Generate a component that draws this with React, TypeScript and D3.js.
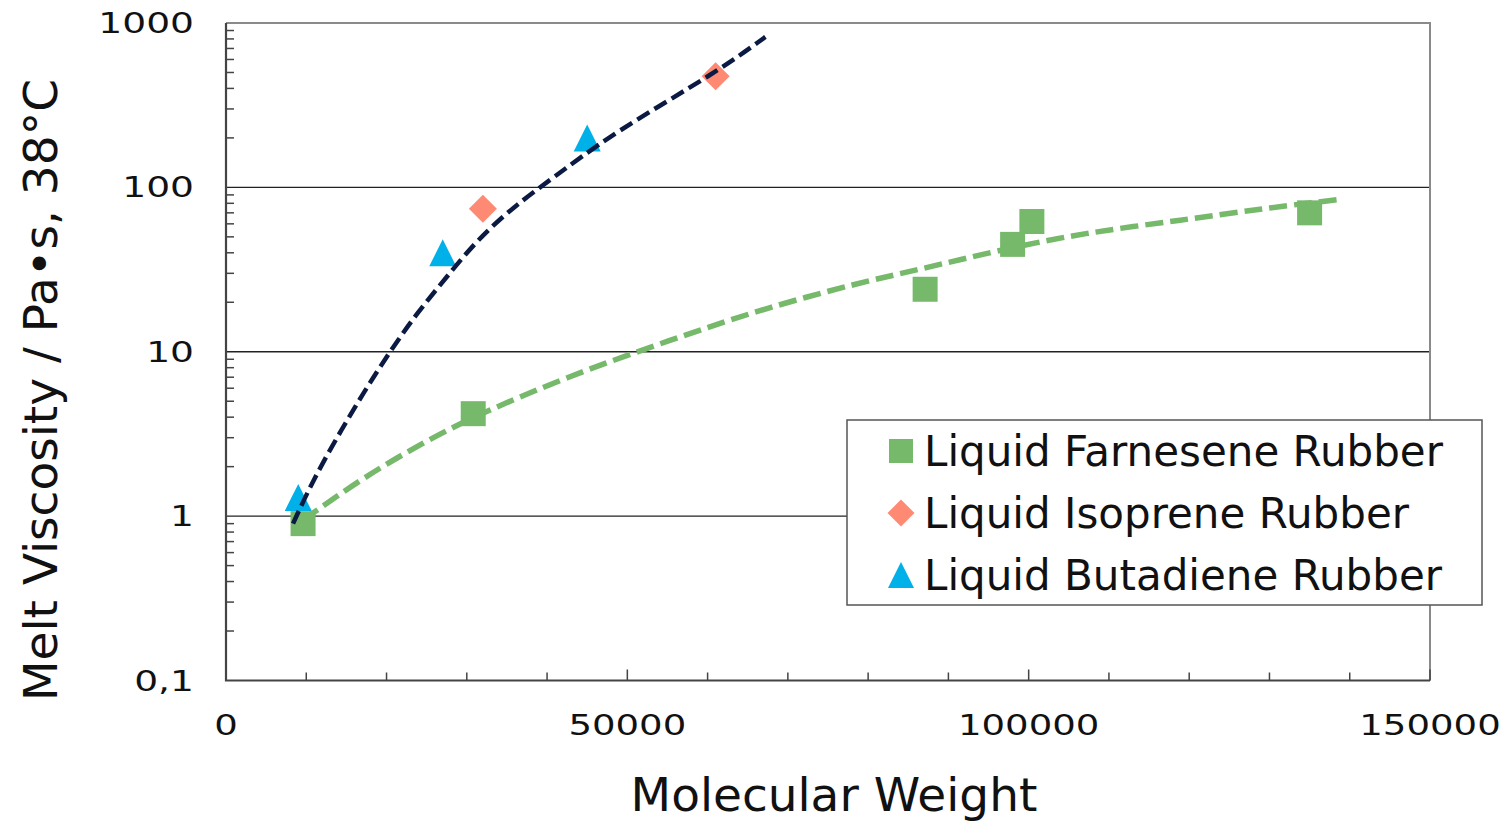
import { useRef, useEffect } from "react";
import * as d3 from "d3";

// Data
const farneseneMw = [9600, 30800, 87100, 98000, 100400, 135000];
const farneseneVisc = [0.9, 4.2, 24, 45, 62, 70];

const isopreneMw = [32000, 61000];
const isopreneVisc = [74, 475];

const butadieneMw = [9000, 27000, 45000];
const butadieneVisc = [1.3, 40, 200];

// Trend lines (dashed)
const darkTrendMw = [8350, 10700, 13800, 17100, 20400, 23800, 27500, 31300, 35800, 40400, 48200, 61200, 67200];
const darkTrendVisc = [0.9, 1.6, 3.0, 5.6, 10, 17.2, 28.5, 48, 76, 111, 214, 504, 823];

const greenTrendMw = [9600, 10800, 16700, 22900, 29200, 34500, 42500, 50700, 59100, 67400, 78700, 86100, 96400, 106800, 119200, 129700, 139200];
const greenTrendVisc = [0.95, 1.04, 1.66, 2.52, 3.68, 4.8, 7.0, 9.8, 13.6, 18.5, 26.2, 31.4, 41.6, 52.8, 63.3, 74.9, 85];

const xTickValues = [0, 50000, 100000, 150000];
const xTickLabels = ["0", "50000", "100000", "150000"];
const yTickValues = [0.1, 1, 10, 100, 1000];
const yTickLabels = ["0,1", "1", "10", "100", "1000"];

const legendLabels = [
  "Liquid Farnesene Rubber",
  "Liquid Isoprene Rubber",
  "Liquid Butadiene Rubber",
];

const GREEN = "#76b96b";
const SALMON = "#ff8a73";
const BLUE = "#00b0e8";
const NAVY = "#0b1a42";
const FONT = "'DejaVu Sans', sans-serif";

const W = 1511;
const H = 821;

function markerPath(kind, size) {
  const h = size / 2;
  if (kind === "square") return `M${-h},${-h}H${h}V${h}H${-h}Z`;
  if (kind === "diamond") {
    const r = h + 1.5;
    return `M0,${-r}L${r},0L0,${r}L${-r},0Z`;
  }
  const t = h + 1;
  return `M0,${-t}L${t},${t}L${-t},${t}Z`;
}

export default function App() {
  const svgRef = useRef(null);

  useEffect(() => {
    if (!svgRef.current) return;
    const svg = d3.select(svgRef.current);
    svg.selectAll("*").remove();

    const x = d3.scaleLinear().domain([0, 150000]).range([226, 1430]);
    const y = d3.scaleLog().domain([0.1, 1000]).range([680.5, 23]);

    const [x0, x1] = x.range();
    const [yb, yt] = y.range();

    // gridlines at decades (except top/bottom)
    svg
      .append("g")
      .selectAll("line")
      .data([1, 10, 100])
      .join("line")
      .attr("x1", x0)
      .attr("x2", x1)
      .attr("y1", (d) => y(d))
      .attr("y2", (d) => y(d))
      .attr("stroke", "#222")
      .attr("stroke-width", 1.3);

    // frame: top and right gray
    svg
      .append("path")
      .attr("d", `M${x0},${yt}H${x1}V${yb}`)
      .attr("fill", "none")
      .attr("stroke", "#8a8a8a")
      .attr("stroke-width", 2);

    // y minor ticks (inside)
    const minor = y.ticks().filter((v) => Math.abs(Math.log10(v) - Math.round(Math.log10(v))) > 1e-6);
    svg
      .append("g")
      .selectAll("line")
      .data(minor)
      .join("line")
      .attr("x1", x0)
      .attr("x2", x0 + 8)
      .attr("y1", (d) => y(d))
      .attr("y2", (d) => y(d))
      .attr("stroke", "#444")
      .attr("stroke-width", 1.5);

    // x ticks (inside)
    svg
      .append("g")
      .selectAll("line")
      .data(x.ticks(15))
      .join("line")
      .attr("x1", (d) => x(d))
      .attr("x2", (d) => x(d))
      .attr("y1", yb)
      .attr("y2", (d) => (d % 50000 === 0 ? yb - 11 : yb - 8))
      .attr("stroke", "#444")
      .attr("stroke-width", 1.5);

    // left and bottom axis lines
    svg
      .append("path")
      .attr("d", `M${x0},${yt}V${yb}H${x1}`)
      .attr("fill", "none")
      .attr("stroke", "#444")
      .attr("stroke-width", 2.2);

    // tick labels, widened glyphs
    svg
      .append("g")
      .selectAll("g")
      .data(yTickValues)
      .join("g")
      .attr("transform", (d) => `translate(194,${y(d) + 10}) scale(1.32,1)`)
      .append("text")
      .attr("text-anchor", "end")
      .attr("font-family", FONT)
      .attr("font-size", 28.5)
      .attr("fill", "#111")
      .text((d, i) => yTickLabels[i]);

    svg
      .append("g")
      .selectAll("g")
      .data(xTickValues)
      .join("g")
      .attr("transform", (d) => `translate(${x(d)},735) scale(1.3,1)`)
      .append("text")
      .attr("text-anchor", "middle")
      .attr("font-family", FONT)
      .attr("font-size", 28.5)
      .attr("fill", "#111")
      .text((d, i) => xTickLabels[i]);

    // axis titles
    svg
      .append("text")
      .attr("x", 834)
      .attr("y", 811)
      .attr("text-anchor", "middle")
      .attr("font-family", FONT)
      .attr("font-size", 47)
      .attr("fill", "#111")
      .text("Molecular Weight");

    svg
      .append("text")
      .attr("transform", "translate(57,390) rotate(-90)")
      .attr("text-anchor", "middle")
      .attr("font-family", FONT)
      .attr("font-size", 47)
      .attr("fill", "#111")
      .text("Melt Viscosity / Pa•s, 38°C");

    // markers
    const series = [
      { kind: "square", color: GREEN, mw: farneseneMw, v: farneseneVisc },
      { kind: "diamond", color: SALMON, mw: isopreneMw, v: isopreneVisc },
      { kind: "triangle", color: BLUE, mw: butadieneMw, v: butadieneVisc },
    ];
    series.forEach((s) => {
      svg
        .append("g")
        .selectAll("path")
        .data(s.mw.map((m, i) => [m, s.v[i]]))
        .join("path")
        .attr("transform", (d) => `translate(${x(d[0])},${y(d[1])})`)
        .attr("d", markerPath(s.kind, 25))
        .attr("fill", s.color);
    });

    // trend lines on top
    const line = d3
      .line()
      .x((d) => x(d[0]))
      .y((d) => y(d[1]))
      .curve(d3.curveBasis);

    svg
      .append("path")
      .datum(greenTrendMw.map((m, i) => [m, greenTrendVisc[i]]))
      .attr("d", line)
      .attr("fill", "none")
      .attr("stroke", GREEN)
      .attr("stroke-width", 5.5)
      .attr("stroke-dasharray", "18 7");

    svg
      .append("path")
      .datum(darkTrendMw.map((m, i) => [m, darkTrendVisc[i]]))
      .attr("d", line)
      .attr("fill", "none")
      .attr("stroke", NAVY)
      .attr("stroke-width", 4.5)
      .attr("stroke-dasharray", "14 6");

    // legend
    const lg = svg.append("g").attr("transform", "translate(847,420)");
    lg.append("rect")
      .attr("width", 635)
      .attr("height", 185)
      .attr("fill", "#fff")
      .attr("stroke", "#555")
      .attr("stroke-width", 1.5);

    const items = lg
      .selectAll("g")
      .data(series)
      .join("g")
      .attr("transform", (d, i) => `translate(0,${31 + i * 62})`);
    items
      .append("path")
      .attr("transform", "translate(54,0)")
      .attr("d", (d) => markerPath(d.kind, 24))
      .attr("fill", (d) => d.color);
    items
      .append("text")
      .attr("x", 77)
      .attr("y", 15)
      .attr("font-family", FONT)
      .attr("font-size", 42)
      .attr("fill", "#111")
      .text((d, i) => legendLabels[i]);
  }, []);

  return (
    <div style={{ position: "absolute", left: 0, top: 0, width: W, height: H, background: "#fff" }}>
      <svg ref={svgRef} width={W} height={H} style={{ display: "block" }}></svg>
    </div>
  );
}
